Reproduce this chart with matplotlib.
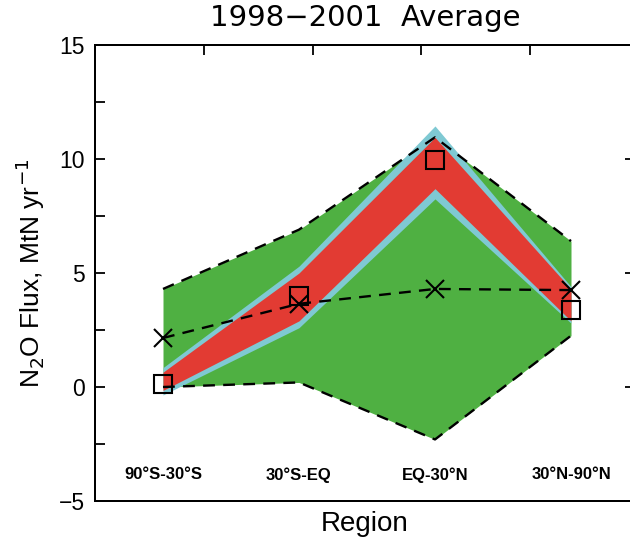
import matplotlib
matplotlib.use("Agg")
import matplotlib.pyplot as plt
from matplotlib import font_manager

# ---- data ----
regions = ["90°S-30°S", "30°S-EQ", "EQ-30°N", "30°N-90°N"]
xpos = [1, 2, 3, 4]
green_hi = [4.3, 6.9, 10.95, 6.4]
green_lo = [0.0, 0.2, -2.3, 2.25]
cyan_hi = [0.85, 5.3, 11.45, 4.4]
cyan_lo = [-0.35, 2.6, 8.25, 2.8]
red_hi = [0.65, 5.0, 10.95, 4.3]
red_lo = [-0.15, 2.9, 8.7, 2.9]
squares = [0.12, 3.97, 9.95, 3.36]
crosses = [2.15, 3.65, 4.3, 4.25]
yticks = [-5, 0, 5, 10, 15]
top_ticks = [1.3, 2.1, 2.9, 3.7]

names = {f.name for f in font_manager.fontManager.ttflist}
narrow = "Liberation Sans Narrow" if "Liberation Sans Narrow" in names else "Liberation Sans"

plt.rcParams['font.family'] = ['Liberation Sans', 'DejaVu Sans']

fig = plt.figure(figsize=(6.3, 5.43), dpi=100)
ax = fig.add_axes([95/630, 42/543, 544/630, 456/543])

green = "#4fb042"
cyan = "#7fc9d3"
red = "#e23b33"

ax.fill_between(xpos, green_lo, green_hi, color=green, lw=0, zorder=1)
ax.fill_between(xpos, cyan_lo, cyan_hi, color=cyan, lw=0, zorder=2)
ax.fill_between(xpos, red_lo, red_hi, color=red, lw=0, zorder=3)
ax.plot(xpos, green_hi, color='k', lw=1.7, dashes=(5, 3.5), zorder=4)
ax.plot(xpos, green_lo, color='k', lw=1.7, dashes=(5, 3.5), zorder=4)
ax.plot(xpos, crosses, color='k', lw=1.7, dashes=(5, 3.5), marker='x',
        ms=13, mew=1.5, zorder=5)
ax.plot(xpos, squares, ls='none', marker='s', ms=12.5, mfc='none', mec='k',
        mew=1.5, zorder=6)

for x, lab in zip(xpos, regions):
    ax.text(x, -3.85, lab, ha='center', va='center', fontsize=12,
            fontweight='bold', family=[narrow, 'DejaVu Sans'])

ax.set_xlim(0.5, 4.5)
ax.set_ylim(-5, 15)
ax.set_yticks(yticks)
ax.set_yticks([-2.5, 2.5, 7.5, 12.5], minor=True)
ax.set_xticks(top_ticks)
ax.set_xticklabels([])
ax.tick_params(axis='x', which='both', bottom=False, top=True, direction='in',
               length=7, width=1.3)
ax.tick_params(axis='y', which='both', left=True, right=False, direction='in',
               length=7.5, width=1.3, labelsize=16.5, pad=7.5)
ax.set_yticklabels([str(v) if v >= 0 else "\u2212" + str(-v) for v in yticks])

ax2 = ax.twinx()
ax2.set_ylim(-5, 15)
ax2.set_yticks(yticks)
ax2.set_yticklabels([])
ax2.tick_params(axis='y', direction='in', length=10, width=1.3)

for a in (ax, ax2):
    for s in a.spines.values():
        s.set_linewidth(1.4)
    a.spines['right'].set_visible(False)

fig.text(365/630, 1 - 18/543, "1998\u22122001  Average", ha='center', va='center',
         fontsize=21, family=['DejaVu Sans'])
ax.set_ylabel(r"N$_2$O Flux, MtN yr$^{-1}$", fontsize=19, labelpad=8)
fig.text(365/630, 1 - 524/543, "Region", ha='center', va='center', fontsize=20)

fig.savefig("out.png", dpi=100)
